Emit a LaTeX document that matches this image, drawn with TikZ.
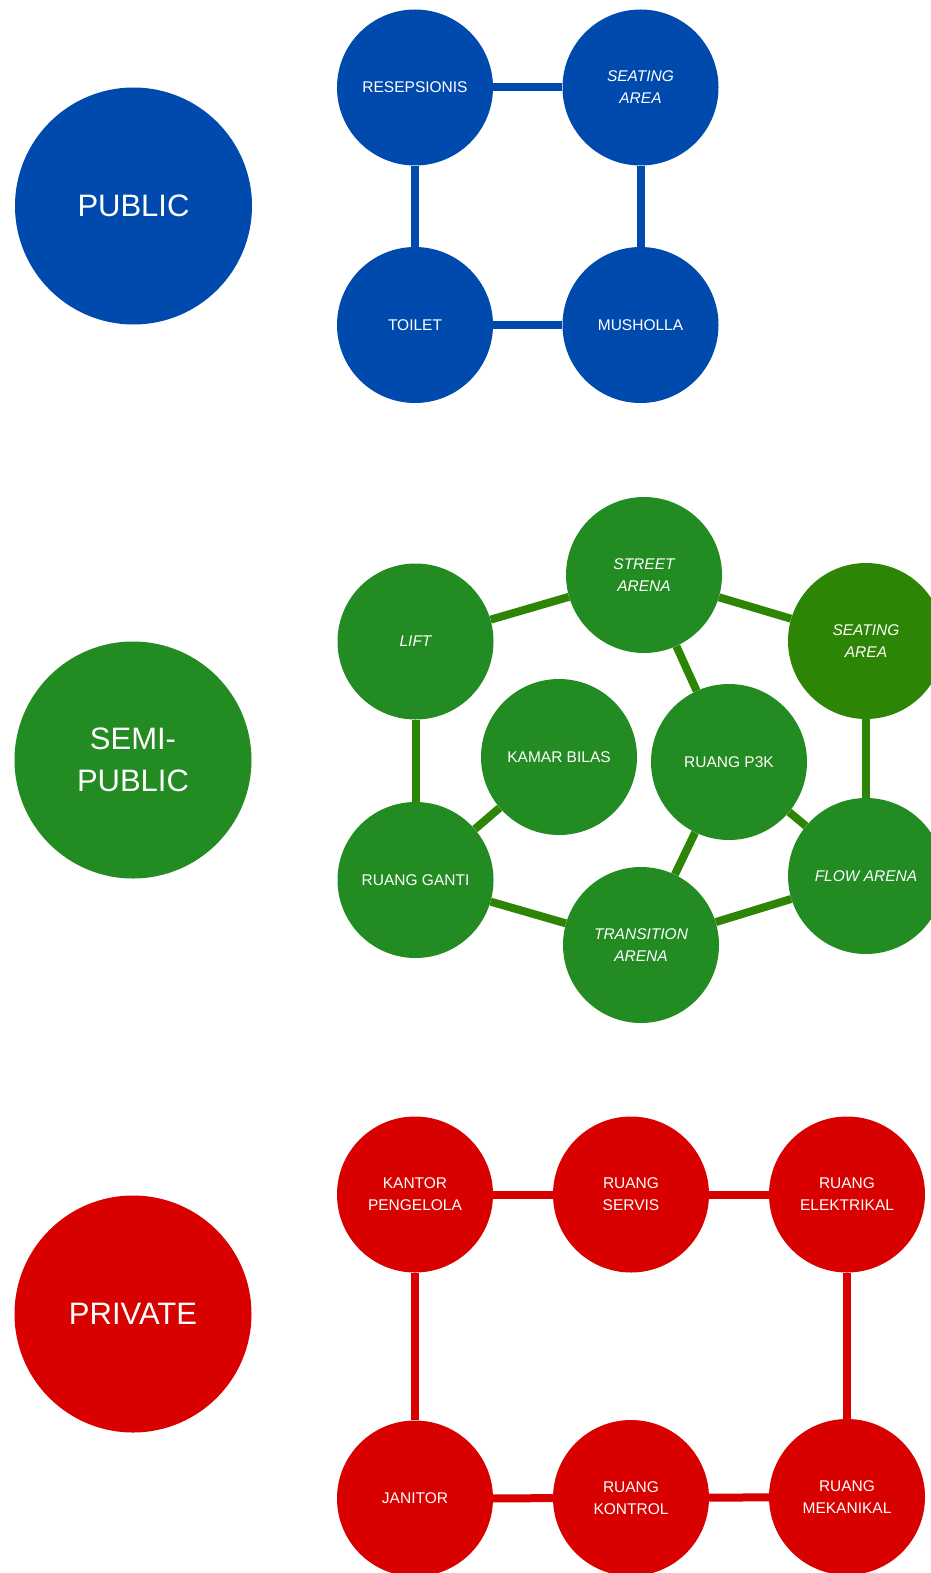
\documentclass[tikz,border=0pt]{standalone}
\usepackage{fontspec}
\setmainfont{Liberation Sans}
\usetikzlibrary{backgrounds}
\definecolor{pblue}{HTML}{004AAD}
\definecolor{pgreen}{HTML}{228B22}
\definecolor{pgreendk}{HTML}{2C8505}
\definecolor{pred}{HTML}{D90000}
\tikzset{
  room/.style={circle, inner sep=0pt, minimum size=156pt, text=white, align=center,
    font=\fontsize{15.5}{22}\selectfont},
  zone/.style={circle, inner sep=0pt, minimum size=237pt, text=white, align=center,
    font=\fontsize{31}{42}\selectfont},
  link/.style={line width=8pt},
}
\begin{document}
\begin{tikzpicture}[x=1pt,y=-1pt]
\useasboundingbox (0,0) rectangle (930,1573);
% ---- PUBLIC ----
\node[zone, fill=pblue] (pub) at (133.5,206) {PUBLIC};
\node[room, fill=pblue] (resep) at (415,87.5) {RESEPSIONIS};
\node[room, fill=pblue] (seat1) at (640.5,87.5) {\itshape SEATING\\\itshape AREA};
\node[room, fill=pblue] (toilet) at (415,325) {TOILET};
\node[room, fill=pblue] (mush) at (640.5,325) {MUSHOLLA};
% ---- SEMI-PUBLIC ----
\node[zone, fill=pgreen] (semi) at (133,760) {SEMI-\\PUBLIC};
\node[room, fill=pgreen] (street) at (644,575) {\itshape STREET\\\itshape ARENA};
\node[room, fill=pgreen] (lift) at (415.5,641.5) {\itshape LIFT};
\node[room, fill=pgreendk] (seat2) at (866,641) {\itshape SEATING\\\itshape AREA};
\node[room, fill=pgreen] (kamar) at (559,757) {KAMAR BILAS};
\node[room, fill=pgreen] (p3k) at (729,762) {RUANG P3K};
\node[room, fill=pgreen] (ganti) at (415.5,880) {RUANG GANTI};
\node[room, fill=pgreen] (trans) at (641,945) {\itshape TRANSITION\\\itshape ARENA};
\node[room, fill=pgreen] (flow) at (866,876) {\itshape FLOW ARENA};
% ---- PRIVATE ----
\node[zone, fill=pred] (priv) at (133,1314) {PRIVATE};
\node[room, fill=pred] (kantor) at (415,1194.5) {KANTOR\\PENGELOLA};
\node[room, fill=pred] (servis) at (631,1194.5) {RUANG\\SERVIS};
\node[room, fill=pred] (elek) at (847,1194.5) {RUANG\\ELEKTRIKAL};
\node[room, fill=pred] (janitor) at (415,1498.5) {JANITOR};
\node[room, fill=pred] (kontrol) at (631,1498) {RUANG\\KONTROL};
\node[room, fill=pred] (mek) at (847,1497) {RUANG\\MEKANIKAL};
\begin{pgfonlayer}{background}
\draw[link, pblue] (resep) -- (seat1);
\draw[link, pblue] (resep) -- (toilet);
\draw[link, pblue] (seat1) -- (mush);
\draw[link, pblue] (toilet) -- (mush);
\draw[link, pgreendk] (lift) -- (street);
\draw[link, pgreendk] (street) -- (seat2);
\draw[link, pgreendk] (seat2) -- (flow);
\draw[link, pgreendk] (flow) -- (trans);
\draw[link, pgreendk] (trans) -- (ganti);
\draw[link, pgreendk] (ganti) -- (lift);
\draw[link, pgreendk] (street) -- (p3k);
\draw[link, pgreendk] (p3k) -- (trans);
\draw[link, pgreendk] (p3k) -- (flow);
\draw[link, pgreendk] (kamar) -- (ganti);
\draw[link, pred] (kantor) -- (servis);
\draw[link, pred] (servis) -- (elek);
\draw[link, pred] (elek) -- (mek);
\draw[link, pred] (kantor) -- (janitor);
\draw[link, pred] (janitor) -- (kontrol);
\draw[link, pred] (kontrol) -- (mek);
\end{pgfonlayer}
\end{tikzpicture}
\end{document}
